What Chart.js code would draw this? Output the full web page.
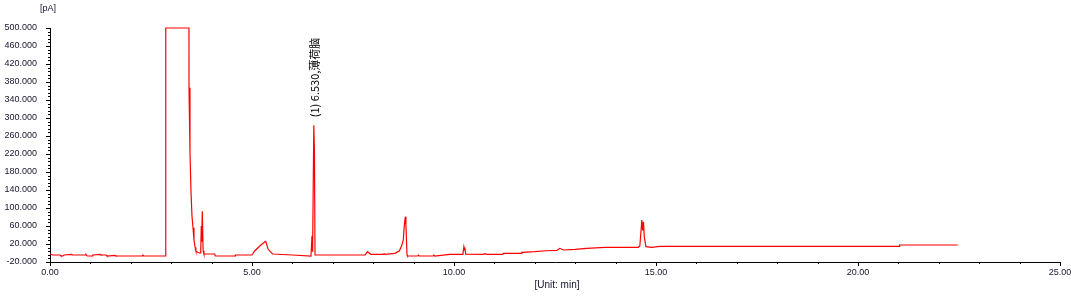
<!DOCTYPE html>
<html>
<head>
<meta charset="utf-8">
<title>Chromatogram</title>
<script src="https://cdn.jsdelivr.net/npm/chart.js"></script>
<style>
    html, body { margin: 0; padding: 0; background: #fff; }
    #chromChart { display: block; }
</style>
</head>
<body>
<canvas id="chromChart" width="1071" height="296"></canvas>
<script>
    // trace: [retention time (min), signal (pA)]
    const trace = [
        [0, -2.2], [0.07, -4.4], [0.25, -4.4], [0.27, -6.7], [0.32, -6.7], [0.35, -4.4],
        [0.54, -3.3], [0.56, -4.4], [0.87, -4.4], [0.89, -3.3], [0.92, -6.7], [1.04, -6.7],
        [1.06, -4.4], [1.24, -2.9], [1.26, -4.4], [1.39, -4.4], [1.41, -6.7], [1.61, -5.2],
        [1.63, -6.7], [2.28, -6.7], [2.30, -4.9], [2.33, -6.7], [2.86, -6.7],
        [2.865, 500], [3.44, 500], [3.441, 367], [3.465, 225], [3.49, 136], [3.515, 81],
        [3.54, 56], [3.564, 29], [3.59, 13], [3.61, 5], [3.646, 2], [3.696, 0],
        [3.73, 0], [3.745, 60], [3.755, 25], [3.77, 93], [3.79, 5], [3.81, -2.2],
        [4.08, -2.2], [4.09, -6.7], [4.58, -6.7], [4.59, -4.4], [5.0, -4.4], [5.017, -4.4],
        [5.07, 5.0], [5.2, 16.2], [5.32, 25], [5.34, 26], [5.40, 8.2], [5.51, -2.2],
        [6.0, -4.4], [6.46, -6.7], [6.485, 38], [6.50, 3], [6.53, 284], [6.545, 229],
        [6.56, -4.4], [6.60, -4.4], [7.0, -4.4], [7.8, -4.4], [7.86, 2.9], [7.94, -2.9],
        [8.25, -2.9], [8.27, -1.5], [8.29, -2.9], [8.54, -0.7], [8.65, 5], [8.71, 17.8],
        [8.745, 29], [8.77, 62], [8.795, 80.7], [8.81, 62], [8.837, -4.4], [8.85, -6.7],
        [9.1, -6.7], [9.12, -4.4], [9.14, -6.7], [9.48, -6.7], [9.5, -4.4], [9.52, -6.7],
        [9.9, -2.9], [10.22, -2.9], [10.245, 14], [10.26, 7], [10.27, 12], [10.29, -2.5],
        [10.72, -2.9], [10.77, -1.5], [10.81, -2.9], [11.21, -2.9], [11.22, -0.7], [11.67, -0.7],
        [11.68, 1.6], [12.0, 2.9], [12.29, 5.0], [12.55, 6.0], [12.62, 10.4], [12.71, 6.7],
        [13.0, 8.0], [13.28, 10.4], [13.74, 12.7], [14.56, 12.7], [14.6, 15.6], [14.65, 73],
        [14.67, 50], [14.69, 69.6], [14.71, 36], [14.75, 14], [14.89, 12.7], [15.1, 14.9],
        [21.02, 14.9], [21.03, 17.8], [22.47, 17.8]
    ];

    // annotated peaks
    const peakTimes = [6.53];
    const peakHeights = [284];
    const peakNames = ['(1) 6.530,薄荷脑'];

    const xMin = 0, xMax = 25, xMinorStep = 1, xLabelEvery = 5;
    const yMin = -20, yMax = 500, yMinorStep = 8, yLabelEvery = 40;
    const yUnit = '[pA]';
    const xUnit = '[Unit: min]';

    const textColor = '#14142e';
    const tickFont = { family: "'Liberation Sans', Arial, sans-serif", size: 9 };

    // tick marks: long for labelled ticks, short for the rest
    const axisTicks = {
        id: 'axisTicks',
        afterDraw(chart) {
            const ctx = chart.ctx;
            const xs = chart.scales.x, ys = chart.scales.y;
            const left = chart.chartArea.left, bottom = chart.chartArea.bottom;
            ctx.save();
            ctx.strokeStyle = '#000';
            ctx.lineWidth = 1;
            ctx.beginPath();
            ys.ticks.forEach(t => {
                const py = Math.round(ys.getPixelForValue(t.value)) + 0.5;
                const len = ((t.value - yMin) % yLabelEvery === 0) ? 4 : 2;
                ctx.moveTo(left - len, py);
                ctx.lineTo(left + 0.5, py);
            });
            xs.ticks.forEach(t => {
                const px = Math.round(xs.getPixelForValue(t.value)) + 0.5;
                const len = (t.value % xLabelEvery === 0) ? 4 : 2;
                ctx.moveTo(px, bottom);
                ctx.lineTo(px, bottom + len);
            });
            ctx.stroke();
            ctx.restore();
        }
    };

    // rotated peak names and the axis unit captions
    const chartTexts = {
        id: 'chartTexts',
        afterDraw(chart) {
            const ctx = chart.ctx;
            const xs = chart.scales.x, ys = chart.scales.y;
            const area = chart.chartArea;
            ctx.save();
            ctx.fillStyle = '#000';
            ctx.font = "11px 'Noto Sans CJK SC', 'Liberation Sans', sans-serif";
            ctx.textAlign = 'left';
            ctx.textBaseline = 'middle';
            peakTimes.forEach((t, i) => {
                const px = xs.getPixelForValue(t) + 1.5;
                const py = ys.getPixelForValue(peakHeights[i]) - 8;
                ctx.save();
                ctx.translate(px, py);
                ctx.rotate(-Math.PI / 2);
                ctx.fillText(peakNames[i], 0, 0);
                ctx.restore();
            });

            ctx.fillStyle = textColor;
            ctx.font = "9px 'Liberation Sans', Arial, sans-serif";
            ctx.textAlign = 'center';
            ctx.fillText(yUnit, area.left - 2, 9);
            ctx.font = "10px 'Liberation Sans', Arial, sans-serif";
            ctx.fillText(xUnit, (area.left + area.right) / 2 + 2, 285);
            ctx.restore();
        }
    };

    const ctx = document.getElementById('chromChart').getContext('2d');
    new Chart(ctx, {
        type: 'line',
        data: {
            datasets: [{
                data: trace.map(p => ({ x: p[0], y: p[1] })),
                borderColor: '#ff0000',
                borderWidth: 1.2,
                pointRadius: 0,
                tension: 0,
                fill: false,
                clip: 4
            }]
        },
        options: {
            responsive: false,
            animation: false,
            devicePixelRatio: 1,
            layout: { padding: { top: 28, right: 11, left: 0, bottom: 0 } },
            plugins: {
                legend: { display: false },
                tooltip: { enabled: false }
            },
            scales: {
                x: {
                    type: 'linear',
                    min: xMin,
                    max: xMax,
                    grid: { display: false, drawTicks: false },
                    border: { display: true, color: '#000', width: 1 },
                    ticks: {
                        stepSize: xMinorStep,
                        autoSkip: false,
                        maxRotation: 0,
                        padding: 5,
                        color: textColor,
                        font: tickFont,
                        callback: v => (v % xLabelEvery === 0 ? v.toFixed(2) : '')
                    },
                    afterFit: s => { s.height = 34; s.paddingLeft = 0; s.paddingRight = 0; }
                },
                y: {
                    min: yMin,
                    max: yMax,
                    grid: { display: false, drawTicks: false },
                    border: { display: true, color: '#000', width: 1 },
                    ticks: {
                        stepSize: yMinorStep,
                        autoSkip: false,
                        padding: 13,
                        color: textColor,
                        font: tickFont,
                        callback: v => ((v - yMin) % yLabelEvery === 0 ? v.toFixed(3) : '')
                    },
                    afterFit: s => { s.width = 50; s.paddingTop = 0; s.paddingBottom = 0; }
                }
            }
        },
        plugins: [axisTicks, chartTexts]
    });
</script>
</body>
</html>
